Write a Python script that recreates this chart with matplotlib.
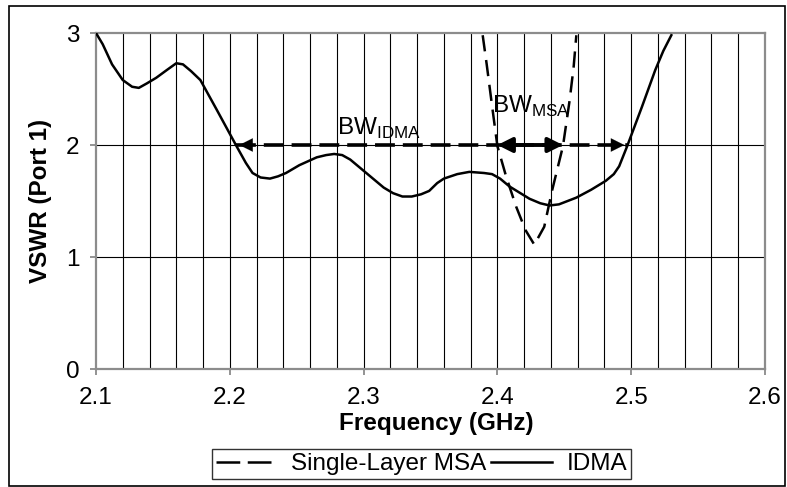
import matplotlib.pyplot as plt
from matplotlib.lines import Line2D
from matplotlib.patches import Rectangle

plt.rcParams['font.family'] = ['Liberation Sans', 'DejaVu Sans']
plt.rcParams['mathtext.fontset'] = 'custom'
plt.rcParams['mathtext.rm'] = 'Liberation Sans'

# IDMA (solid) VSWR curve
idma_f = [2.100, 2.105, 2.112, 2.120, 2.127, 2.132, 2.138, 2.145, 2.153, 2.160, 2.165,
          2.171, 2.178, 2.190, 2.205, 2.212, 2.217, 2.223, 2.230, 2.236, 2.242,
          2.252, 2.265, 2.272, 2.278, 2.284, 2.290, 2.302, 2.315, 2.322, 2.329,
          2.336, 2.343, 2.349, 2.355, 2.360, 2.370, 2.379, 2.390, 2.396, 2.402,
          2.409, 2.424, 2.432, 2.439, 2.446, 2.459, 2.470, 2.481, 2.487, 2.491,
          2.497, 2.508, 2.518, 2.524, 2.530]
idma_v = [3.00, 2.90, 2.72, 2.58, 2.52, 2.51, 2.55, 2.60, 2.67, 2.73, 2.72,
          2.66, 2.58, 2.32, 1.99, 1.84, 1.75, 1.71, 1.70, 1.72, 1.75,
          1.82, 1.89, 1.91, 1.92, 1.91, 1.87, 1.75, 1.62, 1.57, 1.54,
          1.54, 1.56, 1.59, 1.66, 1.70, 1.74, 1.76, 1.75, 1.74, 1.70,
          1.63, 1.52, 1.48, 1.46, 1.47, 1.53, 1.60, 1.68, 1.74, 1.81,
          1.99, 2.34, 2.67, 2.84, 2.98]

# single-layer MSA (dashed) VSWR curve
msa_f = [2.389, 2.392, 2.396, 2.400, 2.4065, 2.414, 2.421, 2.4276, 2.435, 2.441,
         2.449, 2.454, 2.457, 2.459]
msa_v = [2.98, 2.72, 2.35, 1.99, 1.72, 1.45, 1.24, 1.11, 1.27, 1.60,
         1.99, 2.40, 2.70, 2.98]

# bandwidth markers at VSWR = 2
bw_level = 2
bw_idma = [2.205, 2.497]
bw_msa = [2.400, 2.449]

x_ticks = [2.1, 2.2, 2.3, 2.4, 2.5, 2.6]
y_ticks = [0, 1, 2, 3]

fs = 17.5

fig = plt.figure(figsize=(7.87, 4.87), dpi=100)
fig.patches.append(Rectangle((9 / 787, 1 / 487), 776 / 787, 480 / 487, transform=fig.transFigure,
                             fill=False, edgecolor='black', linewidth=1.2))
ax = fig.add_axes([96 / 787, 1 - 369 / 487, 669 / 787, 336 / 487])

# grid
for f in [2.1 + 0.02 * i for i in range(1, 25)]:
    ax.axvline(f, color='black', linewidth=0.8, zorder=1)
for v in y_ticks[1:3]:
    ax.axhline(v, color='black', linewidth=0.8, zorder=1)

ax.plot(msa_f, msa_v, color='black', linewidth=1.8, dashes=(6.5, 3.5), zorder=3)
ax.plot(idma_f, idma_v, color='black', linewidth=1.8, zorder=3)

# BW_IDMA dashed double arrow
ax.plot(bw_idma, [bw_level, bw_level], color='black', linewidth=2.6, dashes=(5.5, 2.2), zorder=4)
for tip, tail in [(bw_idma[0], bw_idma[0] + 0.012), (bw_idma[1], bw_idma[1] - 0.012)]:
    ax.annotate('', xy=(tip, bw_level), xytext=(tail, bw_level),
                arrowprops=dict(arrowstyle='-|>', color='black', lw=0.1, mutation_scale=24),
                zorder=5)
# BW_MSA solid double arrow
ax.annotate('', xy=(bw_msa[0], bw_level), xytext=(bw_msa[1], bw_level),
            arrowprops=dict(arrowstyle='<|-|>', color='black', lw=2.8, mutation_scale=22,
                            shrinkA=0, shrinkB=0),
            zorder=5)

ax.text(2.3115, 2.09, r'BW$_{\mathrm{IDMA}}$', fontsize=fs, ha='center', va='baseline')
ax.text(2.396, 2.29, r'BW$_{\mathrm{MSA}}$', fontsize=fs, ha='left', va='baseline')

ax.set_xlim(2.1, 2.6)
ax.set_ylim(0, 3)
ax.set_xticks(x_ticks)
ax.set_yticks(y_ticks)
ax.set_xticklabels([str(t) for t in x_ticks])
ax.tick_params(labelsize=fs, colors='#808080', labelcolor='black', length=4, width=1.2)
ax.tick_params(axis='x', pad=9)
ax.tick_params(axis='y', pad=8)
for s in ax.spines.values():
    s.set_color('#8c8c8c')
    s.set_linewidth(1.6)

ax.set_xlabel('Frequency (GHz)', fontsize=fs, fontweight='bold', labelpad=2)
ax.xaxis.label.set_x(0.509)
ax.set_ylabel('VSWR (Port 1)', fontsize=fs, fontweight='bold', labelpad=10)

handles = [Line2D([], [], color='black', linewidth=1.8, dashes=(9.5, 3)),
           Line2D([], [], color='black', linewidth=1.8)]
leg = fig.legend(handles, ['Single-Layer MSA', 'IDMA'], loc='center',
                 bbox_to_anchor=(421.5 / 787, 1 - 464 / 487), ncol=2,
                 fontsize=fs, frameon=True, fancybox=False, handlelength=2.5,
                 handletextpad=0.6, columnspacing=0.2, borderpad=0.15, borderaxespad=0)
leg.get_frame().set_edgecolor('black')
leg.get_frame().set_linewidth(1.0)

fig.savefig('out.png', dpi=100)
